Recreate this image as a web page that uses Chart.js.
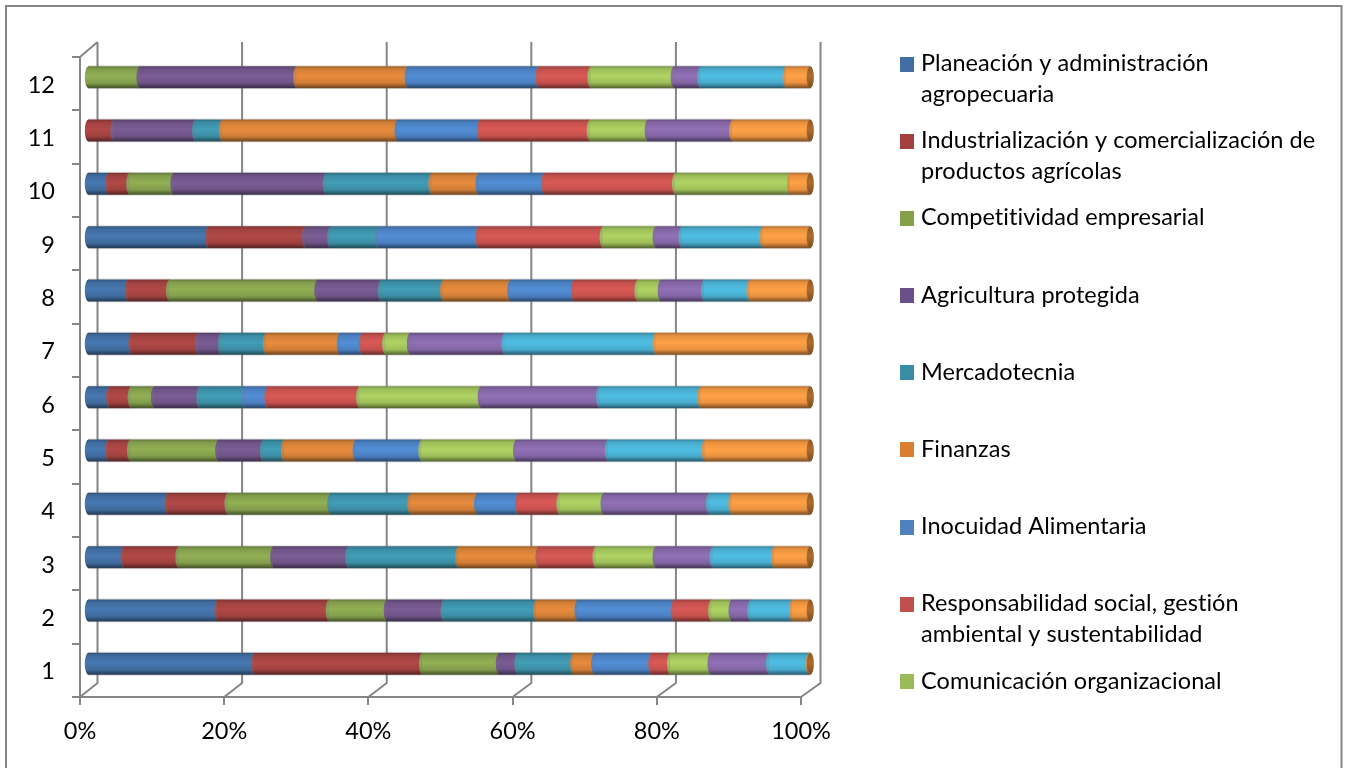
<!DOCTYPE html>
<html lang="es">
<head>
<meta charset="utf-8">
<title>Chart</title>
<style>html,body{margin:0;padding:0;background:#fff;overflow:hidden}canvas{display:block}</style>
<script src="https://cdn.jsdelivr.net/npm/chart.js@4"></script>
</head>
<body>
<canvas id="c" width="1349" height="768"></canvas>
<script>
const categories = ['1','2','3','4','5','6','7','8','9','10','11','12'];
const xTicks = [0,20,40,60,80,100];

const planeacion     = [23.1,18.0,5.0,11.1,2.9,3.0,6.1,5.6,16.7,2.9,0,0];
const industrial     = [23.2,15.4,7.6,8.3,3.0,3.0,9.2,5.7,13.4,2.9,3.6,0];
const competitividad = [10.6,8.0,13.1,14.2,12.2,3.2,0,20.5,0,6.1,0,7.2];
const protegida      = [2.6,7.9,10.4,0,6.2,6.3,3.2,8.8,3.5,21.1,11.3,21.7];
const mercadotecnia  = [7.7,12.8,15.2,11.1,2.9,6.2,6.2,8.6,6.6,14.6,3.7,0];
const finanzas       = [2.9,5.7,11.1,9.2,9.9,0,10.2,9.3,0,6.5,24.3,15.4];
const inocuidad      = [7.9,13.3,0,5.7,9.1,3.2,3.1,8.8,13.9,9.1,11.4,18.1];
const responsabilidad= [2.6,5.2,7.9,5.7,0,12.7,3.2,8.8,17.2,18.1,15.2,7.2];
const comunicacion   = [5.6,2.8,8.3,6.1,13.1,16.8,3.4,3.2,7.3,15.9,8.0,11.5];
const serie10        = [8.1,2.6,7.9,14.6,12.7,16.4,13.1,6.0,3.6,0,11.7,3.7];
const serie11        = [5.5,5.8,8.5,3.1,13.4,14.0,20.9,6.3,11.2,0,0,11.8];
const serie12        = [0.2,2.5,5.0,10.9,14.6,15.2,21.4,8.4,6.6,2.8,10.8,3.4];

const seriesValues = [planeacion,industrial,competitividad,protegida,mercadotecnia,finanzas,inocuidad,responsabilidad,comunicacion,serie10,serie11,serie12];
const seriesNames = ['Planeación y administración agropecuaria','Industrialización y comercialización de productos agrícolas','Competitividad empresarial','Agricultura protegida','Mercadotecnia','Finanzas','Inocuidad Alimentaria','Responsabilidad social, gestión ambiental y sustentabilidad','Comunicación organizacional','Serie 10','Serie 11','Serie 12'];
const seriesColors = ['#4573AA','#AB4644','#8CA952','#75598F','#3F98B0','#E0873B','#5089CE','#D25653','#A9CC60','#8C6DB0','#4DB8DC','#FB9C44'];

const legendLines = [
  ['Planeación y administración','agropecuaria'],
  ['Industrialización y comercialización de','productos agrícolas'],
  ['Competitividad empresarial'],
  ['Agricultura protegida'],
  ['Mercadotecnia'],
  ['Finanzas'],
  ['Inocuidad Alimentaria'],
  ['Responsabilidad social, gestión','ambiental y sustentabilidad'],
  ['Comunicación organizacional']
];
const legendSwatchColors = ['#416FA3','#A2403D','#84A04A','#6A5088','#3A8DA6','#D98030','#4F81BD','#C0504D','#9BBB59'];

const FONT = 'Lato, Carlito, Calibri, sans-serif';
const FS = 23.5;
const AXIS = '#868686';
const DEPTH_X = 17.5, DEPTH_Y = -14, BACK_GROW = 0.0028;
const BAR_DX = 7.4, BAR_GROW = 0.0026, BAR_DY = -6.5, RX = 3.6;

function shade(hex, f){
  const n = parseInt(hex.slice(1),16);
  const c = [n>>16&255,n>>8&255,n&255].map(v=>Math.max(0,Math.min(255,Math.round(v*f))));
  return 'rgb('+c.join(',')+')';
}
function tube(ctx, top, bottom, color){
  const g = ctx.createLinearGradient(0,top,0,bottom);
  g.addColorStop(0, shade(color,.72));
  g.addColorStop(.14, shade(color,.93));
  g.addColorStop(.45, shade(color,1.04));
  g.addColorStop(.76, shade(color,.93));
  g.addColorStop(1, shade(color,.48));
  return g;
}
let plotLeft = 0;
const depthX = px => px + BAR_DX + (px - plotLeft) * BAR_GROW;

/* cylinder look: every bar keeps the position the library computed for it */
Chart.BarElement.prototype.draw = function(ctx){
  const {x,y,base,height} = this.getProps(['x','y','base','height']);
  if (Math.abs(x-base) < 0.01) return;
  const cy = y+BAR_DY, h = height/2, l = depthX(base), r = depthX(x);
  ctx.save();
  ctx.fillStyle = 'rgba(120,120,120,.22)';
  ctx.fillRect(l, cy-h-1, r-l, height+2);
  ctx.beginPath();
  ctx.moveTo(l, cy-h);
  ctx.ellipse(l, cy, RX, h, 0, -Math.PI/2, Math.PI/2, true);
  ctx.lineTo(r+.5, cy+h);
  ctx.ellipse(r+.5, cy, RX, h, 0, Math.PI/2, Math.PI*1.5, false);
  ctx.closePath();
  ctx.fillStyle = tube(ctx, cy-h, cy+h, this.options.backgroundColor);
  ctx.fill();
  ctx.restore();
};

const chromePlugin = {
  id:'chrome',
  beforeDraw(chart){
    const c = chart.ctx;
    plotLeft = chart.chartArea.left;
    c.save();
    c.fillStyle='#fff'; c.fillRect(0,0,1349,768);
    c.strokeStyle=AXIS; c.lineWidth=2;
    c.beginPath();
    c.moveTo(6,768); c.lineTo(6,6); c.lineTo(1341.5,6); c.lineTo(1341.5,768);
    c.stroke();
    c.restore();
  },
  beforeDatasetsDraw(chart){
    const c = chart.ctx, xs = chart.scales.x, a = chart.chartArea;
    c.save();
    c.strokeStyle=AXIS; c.lineWidth=2; c.lineCap='butt';
    c.beginPath();
    xTicks.forEach(v=>{
      const px = xs.getPixelForValue(v);
      const bx = px + DEPTH_X + (px-a.left)*BACK_GROW;
      c.moveTo(px,a.bottom);
      c.lineTo(bx,a.bottom+DEPTH_Y);
      c.lineTo(bx,a.top+DEPTH_Y-1);
    });
    c.moveTo(a.left,a.top);
    c.lineTo(a.left+DEPTH_X,a.top+DEPTH_Y-1);
    c.stroke();
    c.restore();
  },
  afterDatasetsDraw(chart){
    const c = chart.ctx;
    const meta = chart.getDatasetMeta(seriesValues.length-1);
    c.save();
    meta.data.forEach(el=>{
      const {x,y,height} = el.getProps(['x','y','height']);
      const cx = depthX(x), cy = y+BAR_DY, h = height/2;
      const g = c.createLinearGradient(0,cy-h,0,cy+h);
      g.addColorStop(0,'#8F5A28'); g.addColorStop(.45,'#AD6C30'); g.addColorStop(1,'#7A4C20');
      c.beginPath();
      c.ellipse(cx,cy,RX,h,0,0,Math.PI*2);
      c.fillStyle=g; c.fill();
    });
    c.restore();
  },
  afterDraw(chart){
    const c = chart.ctx;
    c.save();
    c.font = FS+'px '+FONT;
    c.letterSpacing = '0.05px';
    c.textBaseline='middle'; c.textAlign='left';
    let y = 63.5;
    legendLines.forEach((lines,i)=>{
      c.fillStyle = legendSwatchColors[i];
      c.fillRect(900,Math.round(y)-7,14,15);
      c.fillStyle='#000';
      lines.forEach((t,j)=>c.fillText(t,921,y+j*30.5));
      y += 77.2;
    });
    c.restore();
  }
};

new Chart(document.getElementById('c'),{
  type:'bar',
  data:{
    labels:categories,
    datasets:seriesValues.map((data,i)=>({label:seriesNames[i],data,backgroundColor:seriesColors[i],barThickness:22,clip:false}))
  },
  options:{
    indexAxis:'y',
    responsive:false,
    animation:false,
    devicePixelRatio:1,
    layout:{padding:{left:10,right:548,top:57,bottom:0}},
    plugins:{legend:{display:false},tooltip:{enabled:false}},
    scales:{
      x:{
        stacked:true,min:0,max:100,
        afterFit:s=>{s.height=71},
        afterBuildTicks:s=>{s.ticks=xTicks.map(value=>({value}))},
        grid:{drawOnChartArea:false,drawTicks:true,tickLength:8,color:AXIS,lineWidth:2},
        border:{display:true,color:AXIS,width:2},
        ticks:{callback:v=>v+'%',color:'#000',font:{family:FONT,size:FS},padding:12,maxRotation:0,autoSkip:false}
      },
      y:{
        stacked:true,reverse:true,
        afterFit:s=>{s.width=70},
        grid:{drawOnChartArea:false,drawTicks:true,tickLength:8,color:AXIS,lineWidth:2},
        border:{display:true,color:AXIS,width:2},
        ticks:{color:'#000',font:{family:FONT,size:FS},padding:17,labelOffset:1.5,autoSkip:false}
      }
    }
  },
  plugins:[chromePlugin]
});
</script>
</body>
</html>
